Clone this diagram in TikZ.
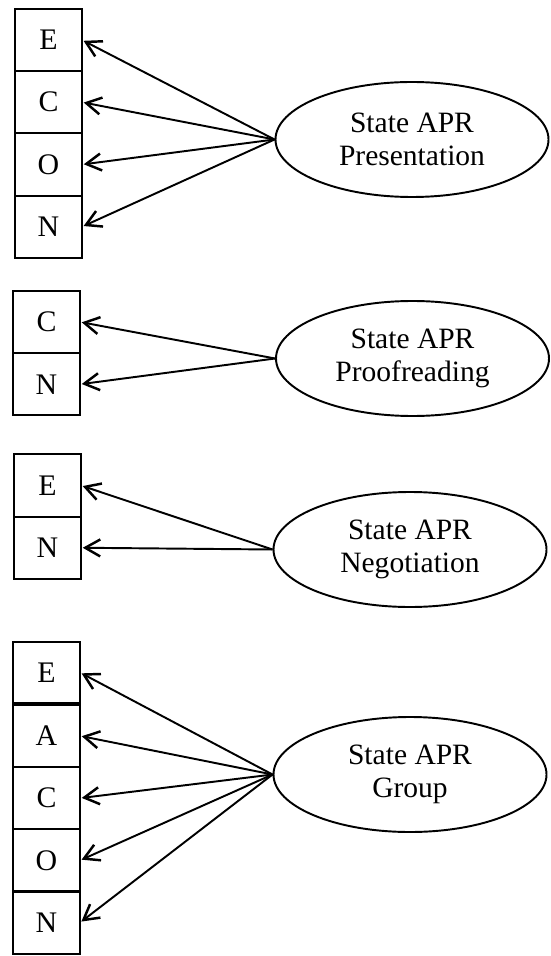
\documentclass[tikz,border=0pt]{standalone}
\usepackage{fontspec}
\setmainfont{Liberation Serif}
\usetikzlibrary{arrows.meta,positioning,shapes.geometric}

\tikzset{
  trait/.style={draw, line width=1.2pt, minimum width=1.34cm, minimum height=1.245cm,
    inner sep=0pt, outer sep=0pt, font=\fontsize{17}{18.5}\selectfont},
  state/.style={draw, ellipse, line width=1.1pt, minimum width=5.46cm, minimum height=2.3cm,
    inner sep=0pt, align=center, font=\fontsize{16.8}{18.5}\selectfont},
  load/.style={-{Straight Barb[length=3mm, width=3.4mm, line width=1.4pt]}, line width=1.1pt, shorten >=1pt},
}

\begin{document}
\begin{tikzpicture}
			%%%%% START %%%%%
			\useasboundingbox (0, 0) rectangle (11, -19.12);

			% presentation
			\node[trait] (e1) at (0.97, -0.8) {E};
			\node[trait, below=0pt of e1] (c1) {C};
			\node[trait, below=0pt of c1] (o1) {O};
			\node[trait, below=0pt of o1] (n1) {N};
			\node[state] (pres) at (8.24, -2.79) {State APR\\Presentation};
			\foreach \t in {e1, c1, o1, n1}
				\draw[load] (pres.west) -- (\t.east);

			% proofreading
			\node[trait] (c2) at (0.93, -6.44) {C};
			\node[trait, below=0pt of c2] (n2) {N};
			\node[state] (proof) at (8.25, -7.17) {State APR\\Proofreading};
			\foreach \t in {c2, n2}
				\draw[load] (proof.west) -- (\t.east);

			% negotiation
			\node[trait] (e3) at (0.95, -9.71) {E};
			\node[trait, below=0pt of e3] (n3) {N};
			\node[state] (nego) at (8.2, -10.99) {State APR\\Negotiation};
			\foreach \t in {e3, n3}
				\draw[load] (nego.west) -- (\t.east);

			% group
			\node[trait, minimum height=1.22cm] (e4) at (0.93, -13.45) {E};
			\node[trait, below=0.035cm of e4] (a4) {A};
			\node[trait, below=0pt of a4] (c4) {C};
			\node[trait, below=0pt of c4] (o4) {O};
			\node[trait, below=0pt of o4] (n4) {N};
			\node[state] (group) at (8.2, -15.49) {State APR\\Group};
			\foreach \t in {e4, a4, c4, o4, n4}
				\draw[load] (group.west) -- (\t.east);
			%%%%% END %%%%%
\end{tikzpicture}
\end{document}
